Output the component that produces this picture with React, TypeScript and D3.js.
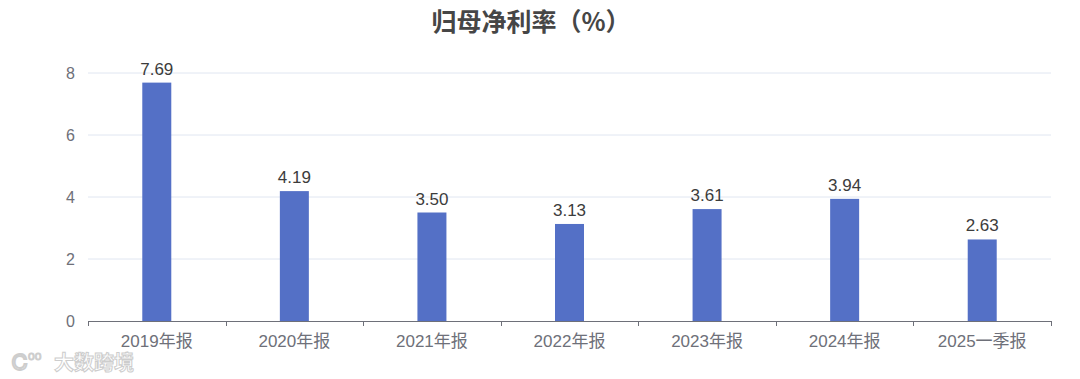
import React from "react";
import * as d3 from "d3";

const categories = ["2019年报", "2020年报", "2021年报", "2022年报", "2023年报", "2024年报", "2025一季报"];
const values = [7.69, 4.19, 3.5, 3.13, 3.61, 3.94, 2.63];
const valueLabels = ["7.69", "4.19", "3.50", "3.13", "3.61", "3.94", "2.63"];
const yTicks = [0, 2, 4, 6, 8];
const title = "归母净利率（%）";

const W = 1080;
const H = 379;
const FONT = "'Liberation Sans', 'Noto Sans CJK SC', sans-serif";

export default function App() {
  const left = 88, right = 1051, top = 73, bottom = 321;
  const x = d3.scaleBand<string>().domain(categories).range([left, right]).paddingInner(0).paddingOuter(0);
  const y = d3.scaleLinear().domain([0, 8]).range([bottom, top]);
  const bw = 29;
  const bands = x.bandwidth();
  const tickXs = categories.map((c) => x(c)!).concat([right]);

  return (
    <svg width={W} height={H} style={{ position: "absolute", left: 0, top: 0, background: "#fff" }} fontFamily={FONT}>
      <rect width={W} height={H} fill="#fff" />
      <text x={531} y={31} textAnchor="middle" fontSize={25} fontWeight="bold" fill="#464646" fontFamily="'Noto Sans CJK SC', sans-serif">
        {title}
      </text>
      {yTicks.map((t) => (
        <g key={t}>
          {t !== 0 && <line x1={left} x2={right} y1={y(t)} y2={y(t)} stroke="#e0e6f1" strokeWidth={1} />}
          <text x={75} y={y(t)} dy="0.35em" textAnchor="end" fontSize={16} fill="#6e7079">
            {t}
          </text>
        </g>
      ))}
      {values.map((v, i) => {
        const cx = x(categories[i])! + bands / 2;
        return (
          <g key={i}>
            <rect x={cx - bw / 2} y={y(v)} width={bw} height={bottom - y(v)} fill="#5470c6" />
            <text x={cx} y={y(v) - 8} textAnchor="middle" fontSize={17} fill="#3c3c3c">
              {valueLabels[i]}
            </text>
            <text x={cx} y={341} dy="0.35em" textAnchor="middle" fontSize={17} fill="#6e7079" fontFamily={FONT}>
              {categories[i]}
            </text>
          </g>
        );
      })}
      <line x1={left} x2={right} y1={bottom + 0.5} y2={bottom + 0.5} stroke="#6e7079" strokeWidth={1} />
      {tickXs.map((tx, i) => (
        <line key={i} x1={Math.round(tx) + 0.5} x2={Math.round(tx) + 0.5} y1={bottom} y2={bottom + 5} stroke="#6e7079" strokeWidth={1} />
      ))}
      <g opacity={0.9}>
        <text x={12} y={370} fontSize={22} fontWeight="bold" fill="#fff" stroke="#c8c8c8" strokeWidth={1} fontFamily="'Noto Sans CJK SC', sans-serif">
          Ꮯ
        </text>
        <text x={28} y={360} fontSize={12} fill="#fff" stroke="#c8c8c8" strokeWidth={1}>
          oo
        </text>
        <text x={54} y={370} fontSize={20} fontWeight="bold" fill="#fff" stroke="#c8c8c8" strokeWidth={1} fontFamily="'Noto Sans CJK SC', sans-serif">
          大数跨境
        </text>
      </g>
    </svg>
  );
}
